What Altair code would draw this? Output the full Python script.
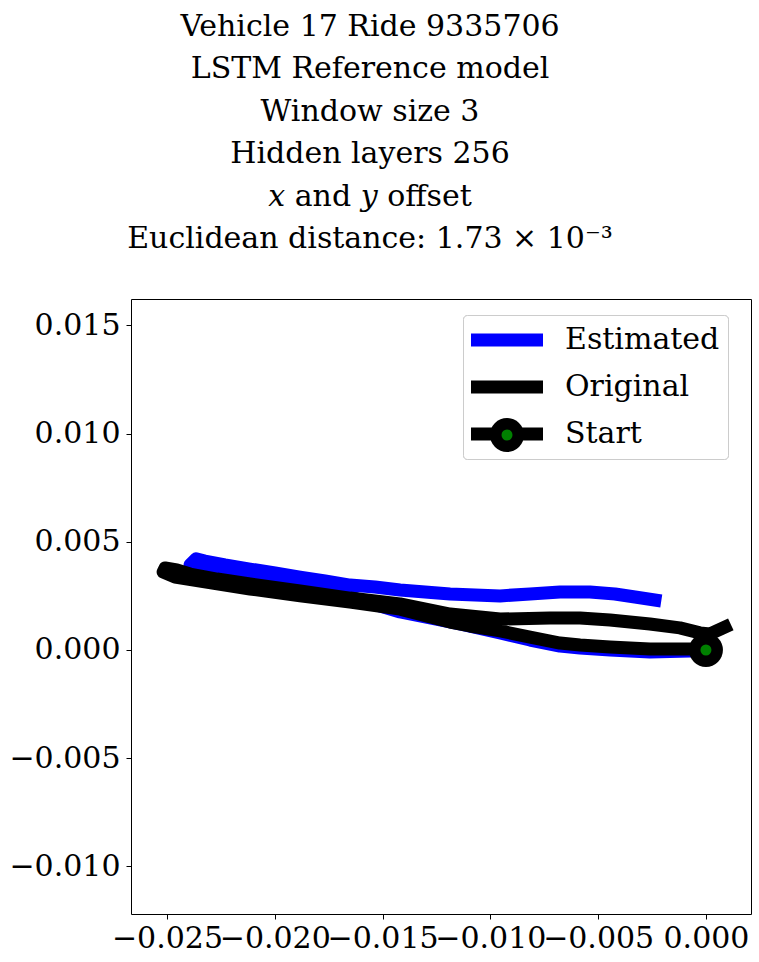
import altair as alt
import pandas as pd

# ---- data ----
est_x = [0.0, -0.00074, -0.00260, -0.00445, -0.00584, -0.00677, -0.00816, -0.00955,
         -0.01141, -0.01280, -0.01419, -0.01558, -0.01651, -0.01790, -0.01929, -0.02115,
         -0.02254, -0.02370,
         -0.02393, -0.02365, -0.02324, -0.02231, -0.02115, -0.01999, -0.01883, -0.01767,
         -0.01651, -0.01535, -0.01419, -0.01303, -0.01187, -0.01071, -0.00955, -0.00816,
         -0.00677, -0.00538, -0.00422, -0.00329, -0.00237]
est_y = [0.0, -0.00005, -0.00009, 0.0, 0.00009, 0.00018, 0.00046, 0.00079,
         0.00120, 0.00148, 0.00176, 0.00217, 0.00245, 0.00273, 0.00296, 0.00328,
         0.00356, 0.00384,
         0.00393, 0.00421, 0.00411, 0.00393, 0.00374, 0.00356, 0.00337, 0.00319,
         0.00300, 0.00291, 0.00277, 0.00268, 0.00259, 0.00254, 0.00250, 0.00259,
         0.00268, 0.00268, 0.00259, 0.00245, 0.00231]

orig_x = [0.0, -0.00074, -0.00260, -0.00445, -0.00584, -0.00677, -0.00816, -0.00955,
          -0.01095, -0.01187, -0.01419, -0.01651, -0.01883, -0.02115, -0.02347, -0.02463,
          -0.02518,
          -0.02509, -0.02454, -0.02393, -0.02268, -0.02115, -0.01883, -0.01651, -0.01419,
          -0.01187, -0.00955, -0.00724, -0.00584, -0.00445, -0.00260, -0.00121, -0.00028,
          0.00019, 0.00088]
orig_y = [0.0, 0.00005, 0.00005, 0.00014, 0.00023, 0.00032, 0.00060, 0.00088,
          0.00111, 0.00129, 0.00189, 0.00222, 0.00250, 0.00282, 0.00319, 0.00337,
          0.00360,
          0.00379, 0.00370, 0.00351, 0.00328, 0.00305, 0.00273, 0.00240, 0.00213,
          0.00166, 0.00143, 0.00148, 0.00148, 0.00139, 0.00120, 0.00102, 0.00079,
          0.00074, 0.00106]

start_x = [0.0]
start_y = [0.0]

series_names = ["Estimated", "Original", "Start"]
series_colors = ["#0000ff", "#000000", "#000000"]

x_ticks = [-0.025, -0.020, -0.015, -0.010, -0.005, 0.0]
y_ticks = [-0.010, -0.005, 0.0, 0.005, 0.010, 0.015]
x_domain = [-0.02667, 0.00209]
y_domain = [-0.0122, 0.01622]

title_lines = [
    "Vehicle 17 Ride 9335706",
    "LSTM Reference model",
    "Window size 3",
    "Hidden layers 256",
    "\U0001D465 and \U0001D466 offset",
    "Euclidean distance: 1.73 \u00d7 10\u207b\u00b3",
]

FONT = "DejaVu Serif"

est_df = pd.DataFrame({"x": est_x, "y": est_y, "series": "Estimated",
                       "i": list(range(len(est_x)))})
orig_df = pd.DataFrame({"x": orig_x, "y": orig_y, "series": "Original",
                        "i": list(range(len(orig_x)))})
start_df = pd.DataFrame({"x": start_x, "y": start_y, "m1": "Start", "m2": "Start "})

xs = alt.Scale(domain=x_domain, nice=False, zero=False)
ys = alt.Scale(domain=y_domain, nice=False, zero=False)

axis_common = dict(format=".3f", title=None, grid=False, domain=False,
                   labelOverlap=False, labelFlush=False,
                   labelFont=FONT, labelFontSize=30, labelColor="black",
                   tickColor="black", tickSize=5, tickWidth=1)
x_axis = alt.Axis(values=x_ticks, labelPadding=4, **axis_common)
y_axis = alt.Axis(values=y_ticks, labelPadding=6, **axis_common)

color = alt.Color(
    "series:N",
    scale=alt.Scale(domain=series_names, range=series_colors),
    legend=alt.Legend(
        title=None, orient="none", legendX=332, legendY=16,
        symbolType="M-1.765,0H6.706", symbolSize=289, symbolStrokeWidth=13,
        symbolOpacity=1, clipHeight=34,
        labelFontSize=30, labelFont=FONT, labelColor="black",
        labelExpr="datum.label + '\u00a0'",
        labelOffset=64, rowPadding=13, padding=8,
        strokeColor="#cccccc", fillColor="white", cornerRadius=4,
    ),
)

est_line = alt.Chart(est_df).mark_line(
    strokeWidth=13, strokeCap="square", strokeJoin="round"
).encode(
    x=alt.X("x:Q", scale=xs, axis=x_axis),
    y=alt.Y("y:Q", scale=ys, axis=y_axis),
    order="i:Q",
    color=color,
)

orig_line = alt.Chart(orig_df).mark_line(
    strokeWidth=13, strokeCap="square", strokeJoin="round"
).encode(
    x=alt.X("x:Q", scale=xs),
    y=alt.Y("y:Q", scale=ys),
    order="i:Q",
    color=color,
)

start_outer = alt.Chart(start_df).mark_point(
    filled=True, color="black", size=1156, opacity=1, strokeWidth=0
).encode(
    x=alt.X("x:Q", scale=xs),
    y=alt.Y("y:Q", scale=ys),
    shape=alt.Shape(
        "m1:N",
        scale=alt.Scale(domain=["Start"], range=["circle"]),
        legend=alt.Legend(
            title=None, orient="none", legendX=359, legendY=119,
            symbolSize=1156, symbolStrokeWidth=0, symbolFillColor="black",
            symbolOpacity=1, labelExpr="''", labelFontSize=1, padding=0,
        ),
    ),
)

start_inner = alt.Chart(start_df).mark_point(
    filled=True, color="green", size=121, opacity=1, strokeWidth=0
).encode(
    x=alt.X("x:Q", scale=xs),
    y=alt.Y("y:Q", scale=ys),
    opacity=alt.Opacity(
        "m2:N",
        scale=alt.Scale(domain=["Start "], range=[1]),
        legend=alt.Legend(
            title=None, orient="none", legendX=370.5, legendY=130.5,
            symbolSize=121, symbolStrokeWidth=0, symbolFillColor="green",
            symbolType="circle", labelExpr="''", labelFontSize=1, padding=0,
        ),
    ),
)

chart = alt.layer(est_line, orig_line, start_outer, start_inner).resolve_legend(
    color="independent", shape="independent", opacity="independent"
).properties(
    width=620,
    height=615,
    padding={"left": 131, "top": 299, "right": 8, "bottom": 48},
    autosize=alt.AutoSizeParams(type="none"),
    title=alt.TitleParams(
        text=title_lines, font=FONT, fontSize=30, fontWeight="normal",
        color="black", lineHeight=42.4, anchor="middle", dx=-71, offset=45,
    ),
).configure(
    background="white"
).configure_view(
    stroke="black", strokeWidth=1
)

chart.save("out.html", embed_options={"renderer": "svg", "actions": False})
